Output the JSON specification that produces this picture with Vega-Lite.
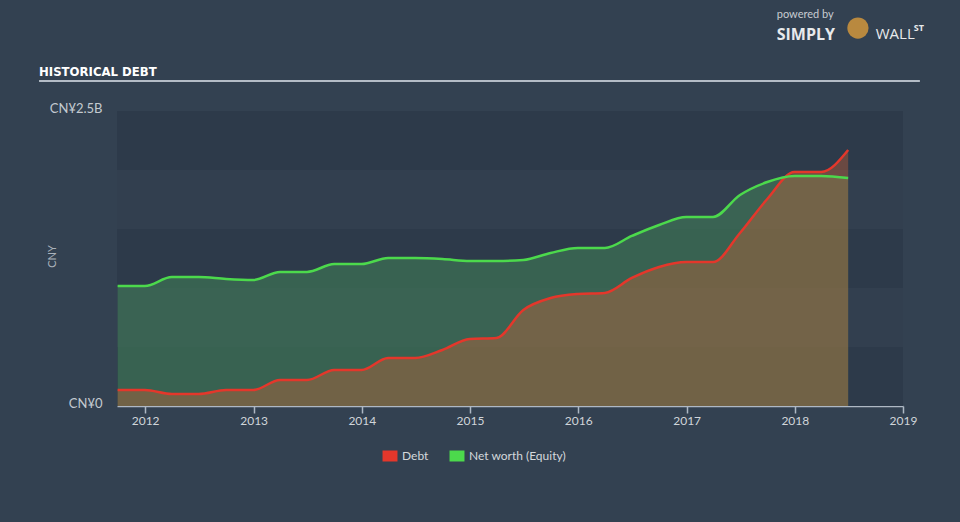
{
  "$schema": "https://vega.github.io/schema/vega-lite/v6.json",
  "width": 786,
  "height": 295,
  "autosize": {"type": "none"},
  "padding": {"left": 117, "top": 111, "right": 57, "bottom": 116},
  "background": "#334151",
  "config": {"view": {"fill": "#323f4f", "stroke": null}, "font": "Lato"},
  "datasets": {
    "series": [
      {"date": "2011-09-30", "series": "Debt", "value": 136000000},
      {"date": "2011-12-31", "series": "Debt", "value": 136000000},
      {"date": "2012-03-31", "series": "Debt", "value": 102000000},
      {"date": "2012-06-30", "series": "Debt", "value": 102000000},
      {"date": "2012-09-30", "series": "Debt", "value": 136000000},
      {"date": "2012-12-31", "series": "Debt", "value": 136000000},
      {"date": "2013-03-31", "series": "Debt", "value": 220000000},
      {"date": "2013-06-30", "series": "Debt", "value": 220000000},
      {"date": "2013-09-30", "series": "Debt", "value": 305000000},
      {"date": "2013-12-31", "series": "Debt", "value": 305000000},
      {"date": "2014-03-31", "series": "Debt", "value": 407000000},
      {"date": "2014-06-30", "series": "Debt", "value": 407000000},
      {"date": "2014-09-30", "series": "Debt", "value": 475000000},
      {"date": "2014-12-31", "series": "Debt", "value": 568000000},
      {"date": "2015-03-31", "series": "Debt", "value": 576000000},
      {"date": "2015-06-30", "series": "Debt", "value": 814000000},
      {"date": "2015-09-30", "series": "Debt", "value": 915000000},
      {"date": "2015-12-31", "series": "Debt", "value": 949000000},
      {"date": "2016-03-31", "series": "Debt", "value": 958000000},
      {"date": "2016-06-30", "series": "Debt", "value": 1085000000},
      {"date": "2016-09-30", "series": "Debt", "value": 1178000000},
      {"date": "2016-12-31", "series": "Debt", "value": 1220000000},
      {"date": "2017-03-31", "series": "Debt", "value": 1220000000},
      {"date": "2017-06-30", "series": "Debt", "value": 1466000000},
      {"date": "2017-09-30", "series": "Debt", "value": 1754000000},
      {"date": "2017-12-31", "series": "Debt", "value": 1983000000},
      {"date": "2018-03-31", "series": "Debt", "value": 1983000000},
      {"date": "2018-06-30", "series": "Debt", "value": 2169000000},
      {"date": "2011-09-30", "series": "Net worth (Equity)", "value": 1017000000},
      {"date": "2011-12-31", "series": "Net worth (Equity)", "value": 1017000000},
      {"date": "2012-03-31", "series": "Net worth (Equity)", "value": 1093000000},
      {"date": "2012-06-30", "series": "Net worth (Equity)", "value": 1093000000},
      {"date": "2012-09-30", "series": "Net worth (Equity)", "value": 1076000000},
      {"date": "2012-12-31", "series": "Net worth (Equity)", "value": 1068000000},
      {"date": "2013-03-31", "series": "Net worth (Equity)", "value": 1136000000},
      {"date": "2013-06-30", "series": "Net worth (Equity)", "value": 1136000000},
      {"date": "2013-09-30", "series": "Net worth (Equity)", "value": 1203000000},
      {"date": "2013-12-31", "series": "Net worth (Equity)", "value": 1203000000},
      {"date": "2014-03-31", "series": "Net worth (Equity)", "value": 1254000000},
      {"date": "2014-06-30", "series": "Net worth (Equity)", "value": 1254000000},
      {"date": "2014-09-30", "series": "Net worth (Equity)", "value": 1246000000},
      {"date": "2014-12-31", "series": "Net worth (Equity)", "value": 1229000000},
      {"date": "2015-03-31", "series": "Net worth (Equity)", "value": 1229000000},
      {"date": "2015-06-30", "series": "Net worth (Equity)", "value": 1237000000},
      {"date": "2015-09-30", "series": "Net worth (Equity)", "value": 1297000000},
      {"date": "2015-12-31", "series": "Net worth (Equity)", "value": 1339000000},
      {"date": "2016-03-31", "series": "Net worth (Equity)", "value": 1339000000},
      {"date": "2016-06-30", "series": "Net worth (Equity)", "value": 1441000000},
      {"date": "2016-09-30", "series": "Net worth (Equity)", "value": 1534000000},
      {"date": "2016-12-31", "series": "Net worth (Equity)", "value": 1602000000},
      {"date": "2017-03-31", "series": "Net worth (Equity)", "value": 1602000000},
      {"date": "2017-06-30", "series": "Net worth (Equity)", "value": 1788000000},
      {"date": "2017-09-30", "series": "Net worth (Equity)", "value": 1898000000},
      {"date": "2017-12-31", "series": "Net worth (Equity)", "value": 1949000000},
      {"date": "2018-03-31", "series": "Net worth (Equity)", "value": 1949000000},
      {"date": "2018-06-30", "series": "Net worth (Equity)", "value": 1932000000}
    ],
    "bands": [
      {"lo": 0, "hi": 500000000},
      {"lo": 1000000000, "hi": 1500000000},
      {"lo": 2000000000, "hi": 2500000000}
    ]
  },
  "layer": [
    {
      "data": {"name": "bands"},
      "mark": {"type": "rect", "color": "#2d3a4a"},
      "encoding": {
        "y": {"field": "lo", "type": "quantitative", "title": "CNY"},
        "y2": {"field": "hi"}
      }
    },
    {
      "data": {"name": "series"},
      "transform": [{"filter": "datum.series == 'Net worth (Equity)'"}],
      "mark": {"type": "area", "interpolate": "monotone", "fill": "#3d7255", "opacity": 0.72},
      "encoding": {
        "x": {"field": "date", "type": "temporal", "title": null},
        "y": {"field": "value", "type": "quantitative", "title": "CNY"}
      }
    },
    {
      "data": {"name": "series"},
      "transform": [{"filter": "datum.series == 'Debt'"}],
      "mark": {"type": "area", "interpolate": "monotone", "fill": "#d86434", "opacity": 0.36},
      "encoding": {
        "x": {"field": "date", "type": "temporal", "title": null},
        "y": {"field": "value", "type": "quantitative", "title": "CNY"}
      }
    },
    {
      "data": {"name": "series"},
      "mark": {"type": "line", "interpolate": "monotone", "strokeWidth": 2.5},
      "encoding": {
        "x": {
          "field": "date",
          "type": "temporal",
          "title": null,
          "scale": {"type": "utc", "nice": false, "domain": [{"year": 2011, "month": 9, "date": 28, "utc": true}, {"year": 2019, "month": 1, "date": 1, "utc": true}]},
          "axis": {
            "values": [{"year": 2012, "utc": true}, {"year": 2013, "utc": true}, {"year": 2014, "utc": true}, {"year": 2015, "utc": true}, {"year": 2016, "utc": true}, {"year": 2017, "utc": true}, {"year": 2018, "utc": true}, {"year": 2019, "utc": true}],
            "format": "%Y",
            "grid": false,
            "labelFlush": false,
            "labelOverlap": false,
            "domainColor": "#aeb8c4",
            "domainWidth": 1.5,
            "tickColor": "#aeb8c4",
            "tickWidth": 1.5,
            "tickSize": 7,
            "labelPadding": 2,
            "labelFont": "Lato",
            "labelFontSize": 12,
            "labelColor": "#d0d5da"
          }
        },
        "y": {
          "field": "value",
          "type": "quantitative",
          "title": "CNY",
          "scale": {"domain": [0, 2500000000], "nice": false},
          "axis": {
            "values": [0, 2500000000],
            "labelExpr": "datum.value == 0 ? 'CN¥0' : 'CN¥2.5B'",
            "labelAlign": "right",
            "labelBaseline": "middle",
            "labelPadding": 15,
            "labelOffset": -3,
            "labelFlush": false,
            "labelFont": "Lato",
            "labelFontSize": 13,
            "labelColor": "#c4cad0",
            "ticks": false,
            "domain": false,
            "grid": false,
            "titleAngle": -90,
            "titleX": -60,
            "titleY": 145,
            "titleAlign": "center",
            "titleBaseline": "bottom",
            "titleFont": "Lato",
            "titleFontSize": 11,
            "titleFontWeight": "normal",
            "titleColor": "#aab2bb"
          }
        },
        "color": {
          "field": "series",
          "type": "nominal",
          "scale": {"domain": ["Debt", "Net worth (Equity)"], "range": ["#e4372b", "#4cd94c"]},
          "legend": {
            "title": null,
            "orient": "none",
            "legendX": 267,
            "legendY": 339,
            "direction": "horizontal",
            "padding": 0,
            "symbolType": "M-1.36,-1H1.36V1H-1.36Z",
            "symbolSize": 121,
            "symbolStrokeWidth": 0,
            "labelOffset": 6,
            "columnPadding": 20,
            "labelFont": "Lato",
            "labelFontSize": 12,
            "labelColor": "#d4d8dc",
            "encode": {"symbols": {"update": {"fill": {"scale": "color", "field": "value"}, "opacity": {"value": 1}}}}
          }
        }
      }
    },
    {
      "data": {"values": [{}]},
      "mark": {"type": "rule", "color": "#b4bcc6", "strokeWidth": 2, "clip": false},
      "encoding": {
        "x": {"datum": {"year": 2011, "month": 1, "date": 8, "utc": true}, "type": "temporal", "title": null},
        "x2": {"datum": {"year": 2019, "month": 2, "date": 27, "utc": true}},
        "y": {"datum": 2754000000, "type": "quantitative", "title": "CNY"}
      }
    },
    {
      "data": {"values": [{}]},
      "mark": {"type": "text", "align": "left", "baseline": "alphabetic", "font": "DejaVu Sans Condensed", "fontWeight": "bold", "fontSize": 13, "color": "#ffffff", "clip": false},
      "encoding": {
        "x": {"datum": {"year": 2011, "month": 1, "date": 8, "utc": true}, "type": "temporal", "title": null},
        "y": {"datum": 2797000000, "type": "quantitative", "title": "CNY"},
        "text": {"value": "HISTORICAL DEBT"}
      }
    },
    {
      "data": {"values": [{}]},
      "mark": {"type": "text", "align": "left", "baseline": "alphabetic", "font": "Lato", "fontSize": 11, "color": "#c8ccd2", "clip": false},
      "encoding": {
        "x": {"datum": {"year": 2017, "month": 11, "date": 1, "utc": true}, "type": "temporal", "title": null},
        "y": {"datum": 3288000000, "type": "quantitative", "title": "CNY"},
        "text": {"value": "powered by"}
      }
    },
    {
      "data": {"values": [{}]},
      "mark": {"type": "text", "align": "left", "baseline": "alphabetic", "font": "Open Sans", "fontWeight": "bold", "fontSize": 16, "color": "#e8eaec", "clip": false},
      "encoding": {
        "x": {"datum": {"year": 2017, "month": 11, "date": 1, "utc": true}, "type": "temporal", "title": null},
        "y": {"datum": 3102000000, "type": "quantitative", "title": "CNY"},
        "text": {"value": "SIMPLY"}
      }
    },
    {
      "data": {"values": [{}]},
      "mark": {"type": "point", "shape": "circle", "filled": true, "size": 450, "color": "#b9893f", "opacity": 1, "clip": false},
      "encoding": {
        "x": {"datum": {"year": 2018, "month": 8, "date": 2, "utc": true}, "type": "temporal", "title": null},
        "y": {"datum": 3203000000, "type": "quantitative", "title": "CNY"}
      }
    },
    {
      "data": {"values": [{}]},
      "mark": {"type": "text", "align": "left", "baseline": "alphabetic", "font": "Open Sans", "fontSize": 15, "color": "#e8eaec", "clip": false},
      "encoding": {
        "x": {"datum": {"year": 2018, "month": 10, "date": 1, "utc": true}, "type": "temporal", "title": null},
        "y": {"datum": 3110000000, "type": "quantitative", "title": "CNY"},
        "text": {"value": "WALL"}
      }
    },
    {
      "data": {"values": [{}]},
      "mark": {"type": "text", "align": "left", "baseline": "alphabetic", "font": "Open Sans", "fontWeight": "bold", "fontSize": 9, "color": "#e8eaec", "clip": false},
      "encoding": {
        "x": {"datum": {"year": 2019, "month": 2, "date": 6, "utc": true}, "type": "temporal", "title": null},
        "y": {"datum": 3178000000, "type": "quantitative", "title": "CNY"},
        "text": {"value": "ST"}
      }
    }
  ]
}
